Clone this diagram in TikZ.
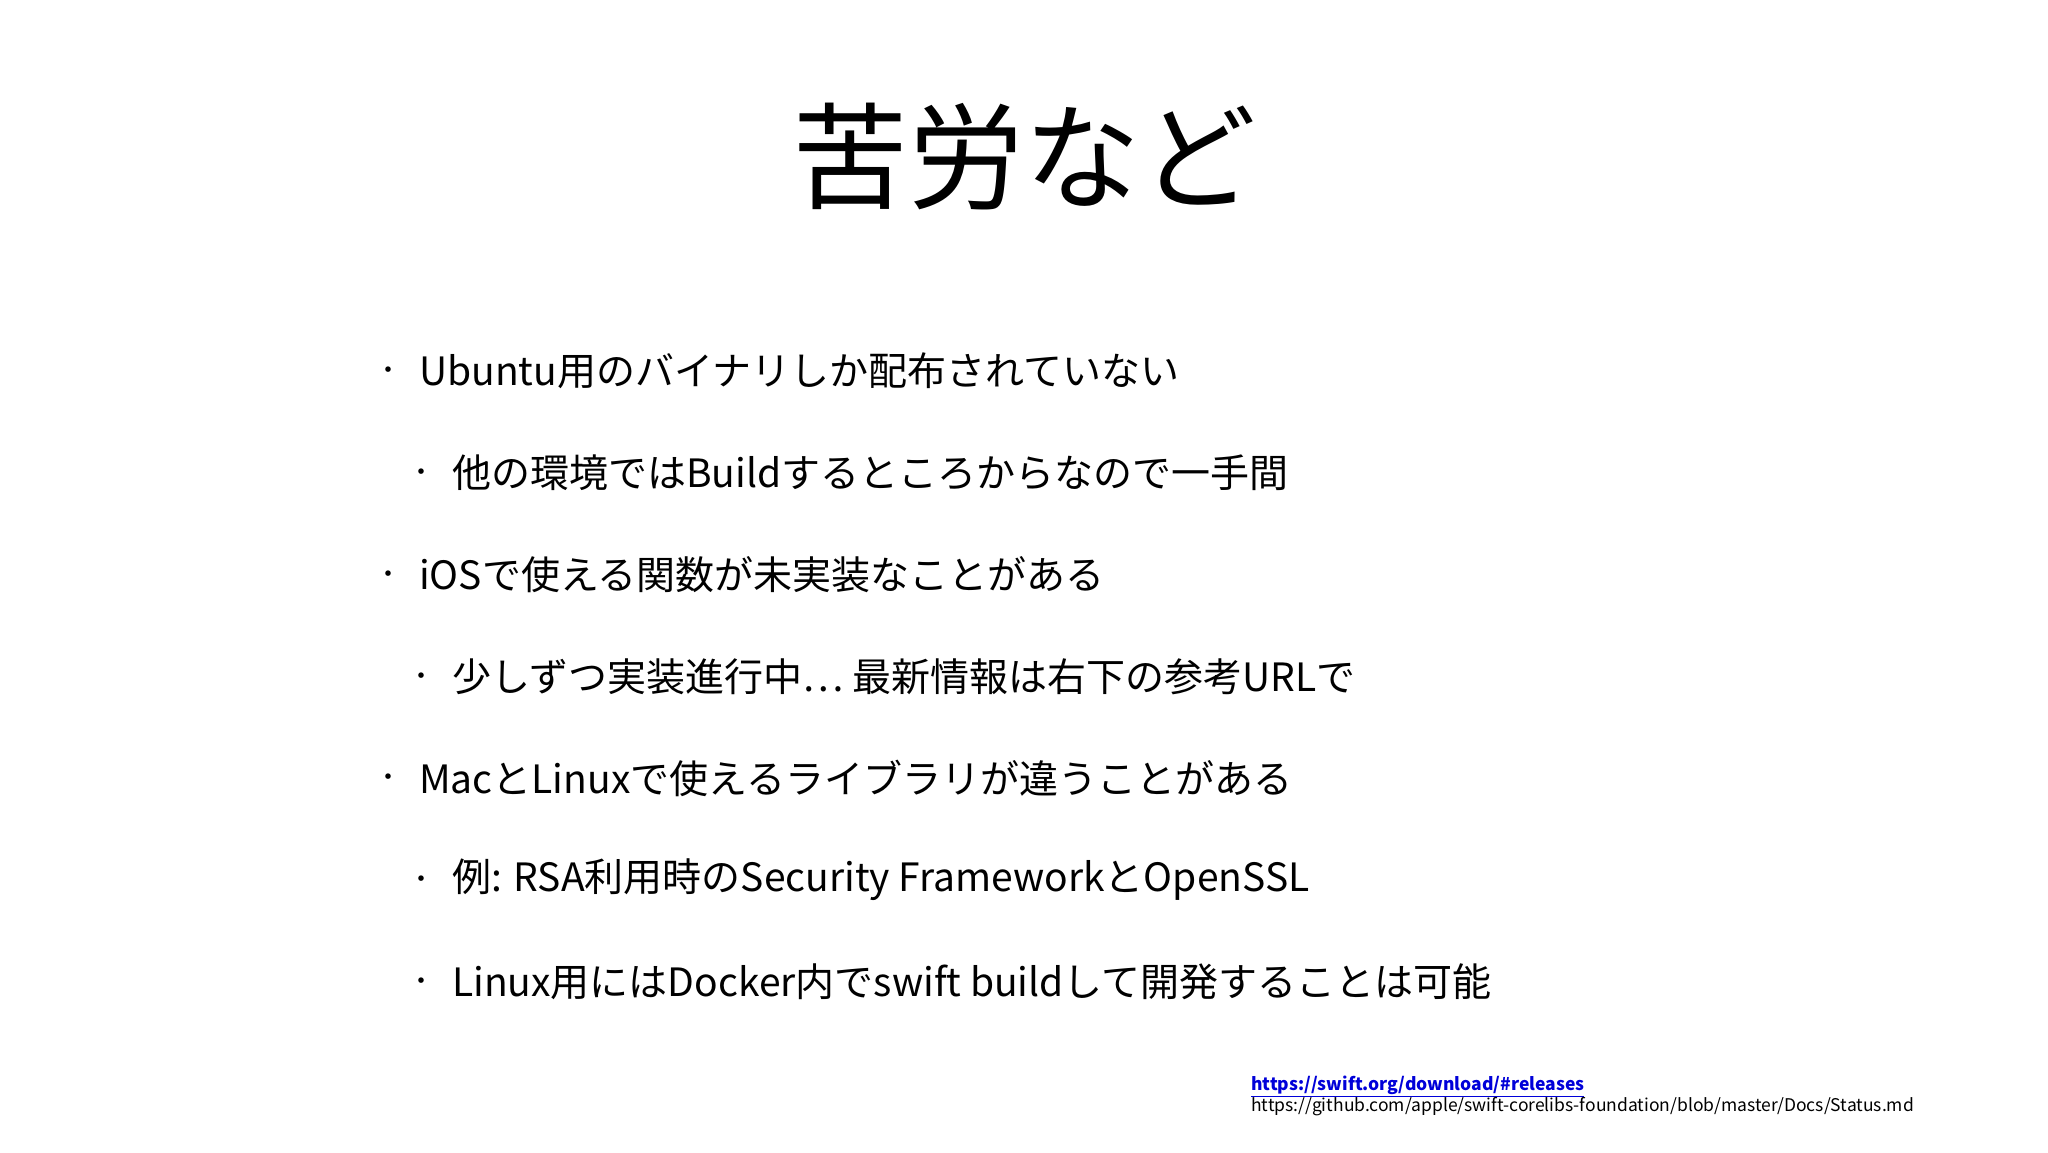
\documentclass[tikz,border=0pt]{standalone}
\usepackage{fontspec}
\setmainfont{Noto Sans CJK JP}
\begin{document}
\begin{tikzpicture}[x=1pt,y=-1pt,
  body/.style={anchor=west,inner sep=0pt,font=\fontsize{39}{44}\selectfont},
  dot/.style={anchor=center,inner sep=0pt,font=\fontsize{26}{30}\selectfont},
  link/.style={anchor=west,inner sep=0pt,font=\fontsize{17.5}{20}\selectfont}]
\useasboundingbox[fill=white] (0,0) rectangle (2048,1152);
\node[inner sep=0pt,font=\fontsize{116}{120}\selectfont] (title) at (1024,157) {苦労など};
\node[dot] (b1) at (388,373) {・};
\node[body] (t1) at (419,371) {Ubuntu用のバイナリしか配布されていない};
\node[dot] (b2) at (421,475) {・};
\node[body] (t2) at (452,473) {他の環境ではBuildするところからなので一手間};
\node[dot] (b3) at (388,577) {・};
\node[body] (t3) at (419,575) {iOSで使える関数が未実装なことがある};
\node[dot] (b4) at (421,679) {・};
\node[body] (t4) at (452,677) {少しずつ実装進行中… 最新情報は右下の参考URLで};
\node[dot] (b5) at (388,780) {・};
\node[body] (t5) at (419,778) {MacとLinuxで使えるライブラリが違うことがある};
\node[dot] (b6) at (421,882) {・};
\node[body] (t6) at (452,880) {例: RSA利用時のSecurity FrameworkとOpenSSL};
\node[dot] (b7) at (421,984) {・};
\node[body] (t7) at (452,982) {Linux用にはDocker内でswift buildして開発することは可能};
\node[link,text=blue!85!black] (l1) at (1251,1086) {\bfseries\underline{https://swift.org/download/\#releases}};
\node[link] (l2) at (1251,1107) {https://github.com/apple/swift-corelibs-foundation/blob/master/Docs/Status.md};
\end{tikzpicture}
\end{document}
